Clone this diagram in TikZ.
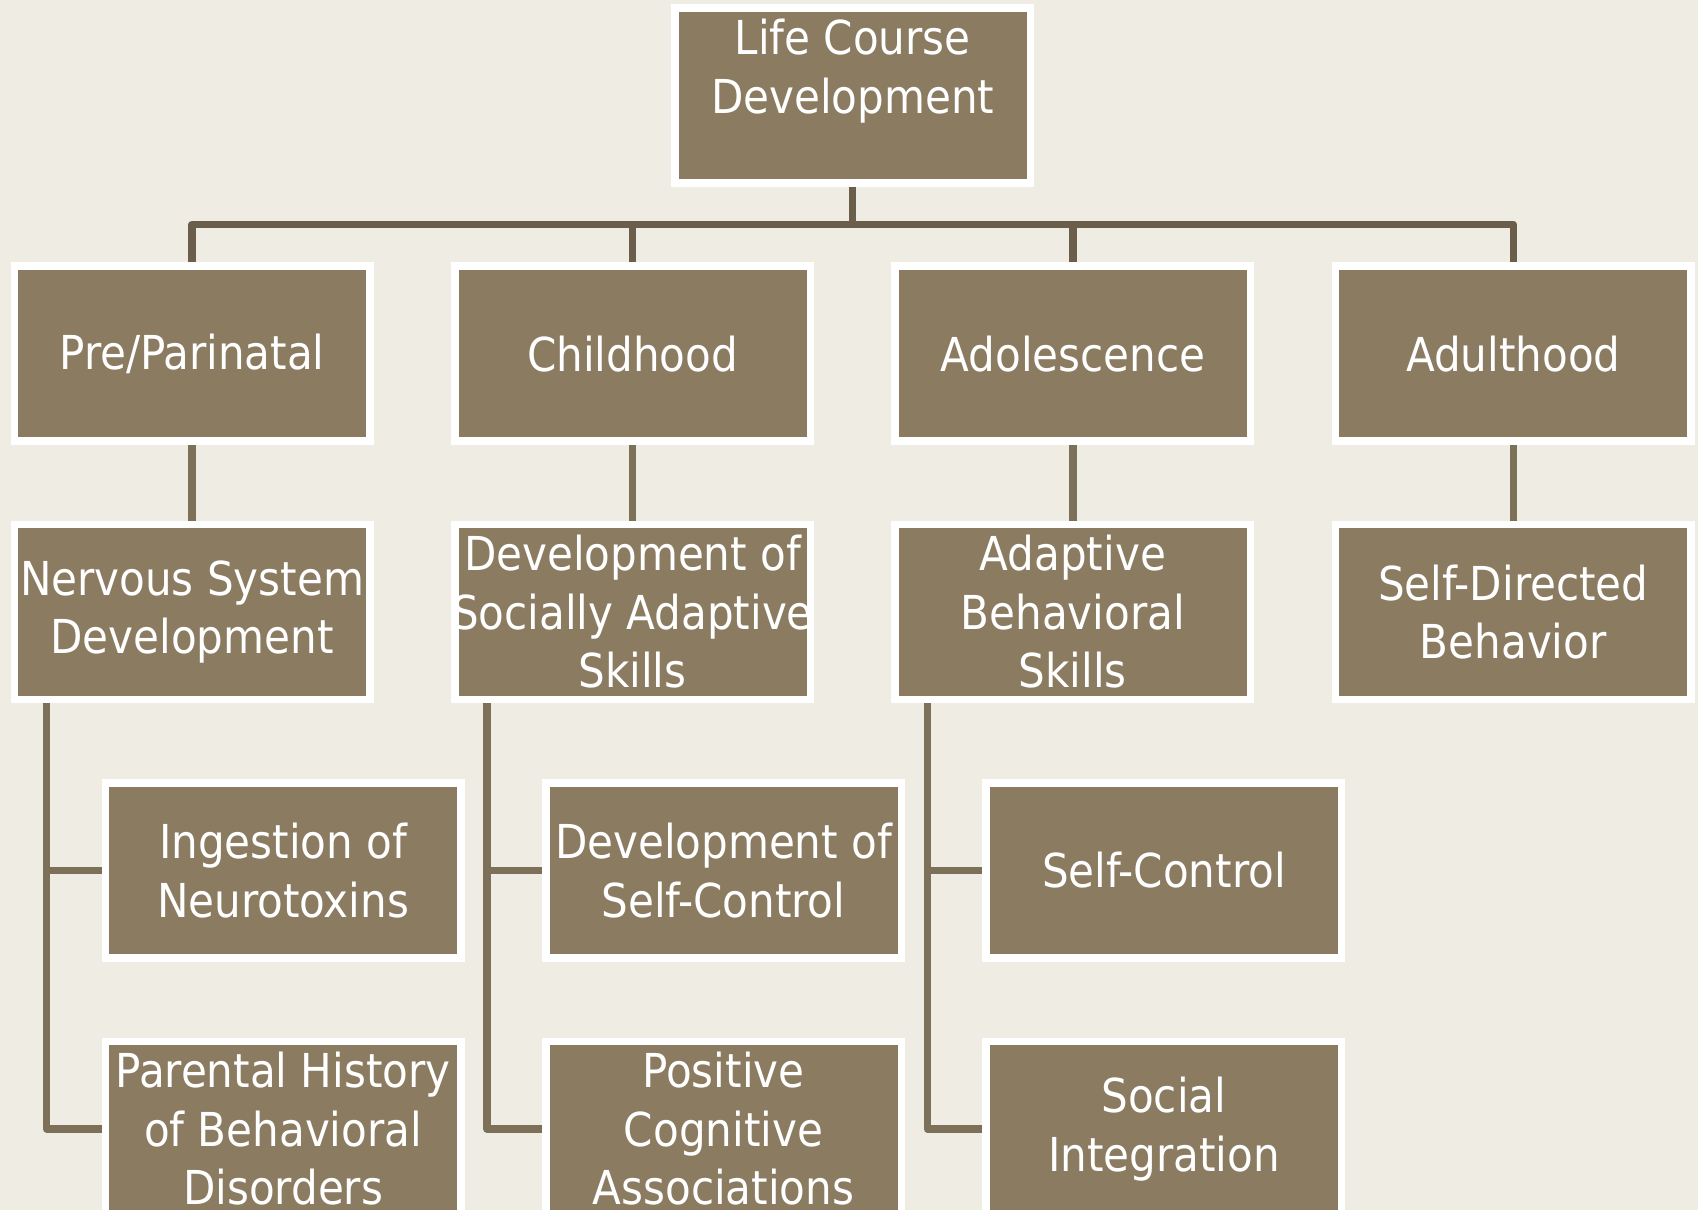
\documentclass[tikz,border=0pt]{standalone}
\usepackage{fontspec}
\setmainfont{DejaVu Sans Condensed}
\usepackage{tikz}
\usepackage{xcolor}
\definecolor{Sand}{HTML}{EFECE4}
\definecolor{Umber}{HTML}{8B7B61}
\definecolor{DarkUmber}{HTML}{6B5F4B}
\definecolor{MidUmber}{HTML}{7D7058}
\tikzset{
  stage/.style={draw=white,line width=0.15cm,fill=Umber,text=white,
    minimum width=7.11cm,minimum height=3.5cm,inner ysep=0pt,inner xsep=-0.3cm,
    align=center,font=\fontsize{26.6}{33.3}\selectfont},
  link/.style={draw=DarkUmber,line width=0.15cm,line join=round},
  sublink/.style={draw=MidUmber,line width=0.15cm,line join=round}
}

\begin{document}
\begin{tikzpicture}
    \fill[Sand] (0,0) rectangle (33.96,-24.2);
    \useasboundingbox (0,0) rectangle (33.96,-24.2);

    \node[stage] (life) at (17.054,-1.907) {Life Course\\Development\\\mbox{}};

    \node[stage] (pre) at (3.842,-7.073) {Pre/Parinatal};
    \node[stage] (child) at (12.65,-7.073) {Childhood};
    \node[stage] (adol) at (21.458,-7.073) {Adolescence};
    \node[stage] (adult) at (30.266,-7.073) {Adulthood};

    \node[stage] (nervous) at (3.842,-12.241) {Nervous System\\Development};
    \node[stage] (social) at (12.65,-12.241) {Development of\\Socially Adaptive\\Skills};
    \node[stage] (adaptive) at (21.458,-12.241) {Adaptive\\Behavioral\\Skills};
    \node[stage] (selfdir) at (30.266,-12.241) {Self-Directed\\Behavior};

    \node[stage] (toxins) at (5.662,-17.407) {Ingestion of\\Neurotoxins};
    \node[stage] (parental) at (5.662,-22.579) {Parental History\\of Behavioral\\Disorders};
    \node[stage] (devself) at (14.47,-17.407) {Development of\\Self-Control};
    \node[stage] (cognitive) at (14.47,-22.579) {Positive\\Cognitive\\Associations};
    \node[stage] (selfctl) at (23.278,-17.407) {Self-Control};
    \node[stage] (integr) at (23.278,-22.579) {Social\\Integration};

    \coordinate (bus) at (17.054,-4.49);
    \draw[link] (life.south) -- (bus);
    \draw[link] (pre.north) |- (bus);
    \draw[link] (child.north) |- (bus);
    \draw[link] (adol.north) |- (bus);
    \draw[link] (adult.north) |- (bus);

    \draw[sublink] (pre) -- (nervous);
    \draw[sublink] (child) -- (social);
    \draw[sublink] (adol) -- (adaptive);
    \draw[sublink] (adult) -- (selfdir);

    \draw[sublink] ([xshift=-2.91cm]nervous.south) |- (toxins.west);
    \draw[sublink] ([xshift=-2.91cm]nervous.south) |- (parental.west);
    \draw[sublink] ([xshift=-2.91cm]social.south) |- (devself.west);
    \draw[sublink] ([xshift=-2.91cm]social.south) |- (cognitive.west);
    \draw[sublink] ([xshift=-2.91cm]adaptive.south) |- (selfctl.west);
    \draw[sublink] ([xshift=-2.91cm]adaptive.south) |- (integr.west);
\end{tikzpicture}
\end{document}
